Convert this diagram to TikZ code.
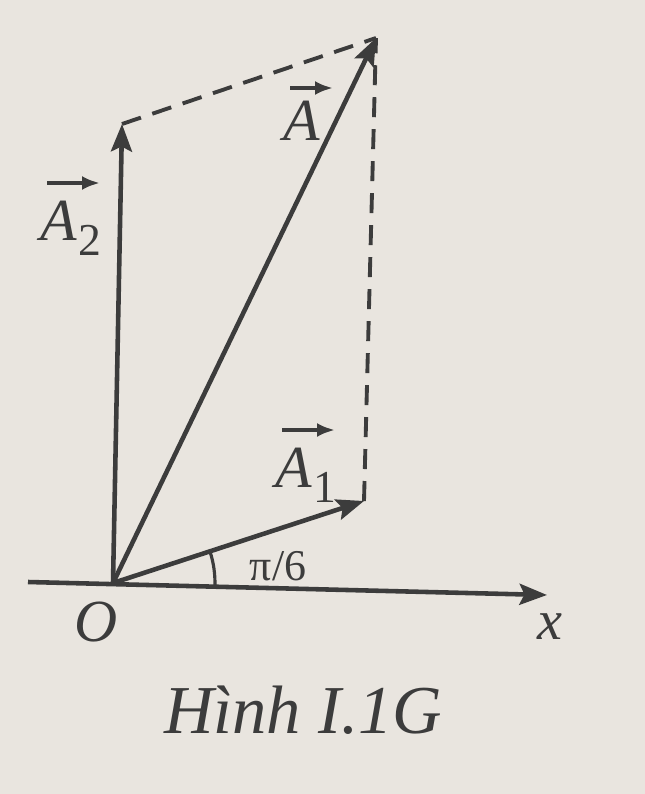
\documentclass[tikz,border=0pt]{standalone}
\usepackage{fontspec}
\setmainfont{Liberation Serif}
\usepackage{tikz}
\usetikzlibrary{arrows.meta,calc}
\definecolor{paper}{RGB}{233,229,223}
\definecolor{ink}{RGB}{60,60,60}
\newcommand{\subidx}[1]{\kern1pt\raisebox{-9pt}{\fontsize{26}{28}\selectfont\upshape #1}}
\tikzset{%
  vec/.style={draw=ink,line width=2.6pt,-{Stealth[length=5.5mm,width=4.2mm,inset=1mm]}},
  proj/.style={draw=ink,line width=2.2pt,dash pattern=on 4mm off 2.4mm},
  lbl/.style={text=ink,inner sep=0pt,font=\fontsize{34}{38}\selectfont\itshape},
  barrow/.style={draw=ink,line width=2.2pt,-{Latex[length=3.6mm,width=2.8mm]}}%
}

\begin{document}
\begin{tikzpicture}[x=0.02cm,y=-0.02cm]

% Page
\fill[paper] (0,0) rectangle (645,794);
\useasboundingbox (0,0) rectangle (645,794);

% Points
\coordinate (O) at (113,583);
\coordinate (xstart) at (28,582);
\coordinate (xend) at (547,595);
\coordinate (tipA1) at (364,501);
\coordinate (tipA2) at (122,124);
\coordinate (tipA) at (376,38);

% Dashed projections
\draw[proj] (tipA2) -- (tipA);
\draw[proj] (tipA1) -- (tipA);

% Axis and vectors
\draw[vec] (xstart) -- (xend);
\draw[vec] (O) -- (tipA1);
\draw[vec] (O) -- (tipA2);
\draw[vec] (O) -- (tipA);

% Angle
\draw[ink,line width=1.8pt] ($(O)+(-1.6:2.04cm)$) arc[start angle=-1.6,end angle=18,radius=2.04cm];

% Vector labels (letter + arrow above)
\node[lbl,anchor=base west] (labA2) at (40,240) {A\subidx{2}};
\node[lbl,anchor=base west] (labA) at (283,140) {A};
\node[lbl,anchor=base west] (labA1) at (275,487) {A\subidx{1}};
\draw[barrow] ($(labA2.base west)+(7,-57)$) -- ++(53,0);
\draw[barrow] ($(labA.base west)+(7,-52)$) -- ++(43,0);
\draw[barrow] ($(labA1.base west)+(7,-57)$) -- ++(53,0);

% Other labels
\node[lbl,font=\fontsize{25}{28}\selectfont] (ang) at (278,566) {π/6};
\node[lbl] (labO) at (96,622) {O};
\node[lbl,font=\fontsize{32}{36}\selectfont\itshape] (labx) at (550,627) {x};
\node[lbl,font=\fontsize{39}{44}\selectfont\itshape] (cap) at (303,710) {Hình I.1G};

\end{tikzpicture}
\end{document}
